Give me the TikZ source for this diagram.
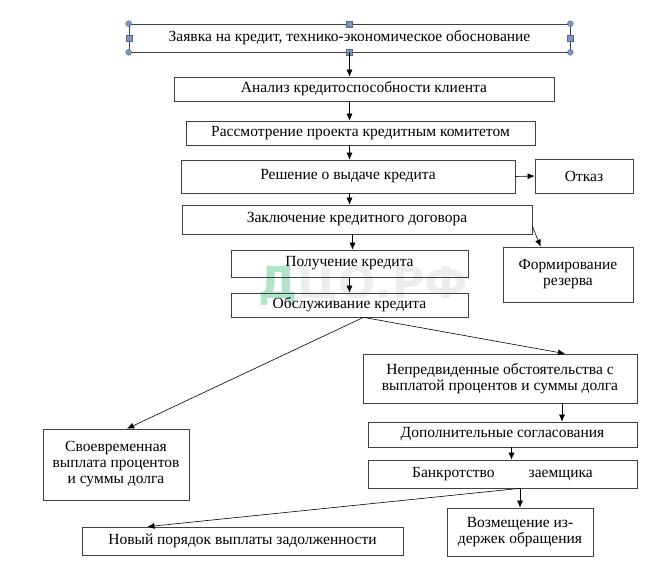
\documentclass[tikz,border=0pt]{standalone}
\usepackage{fontspec}
\setmainfont{Liberation Serif}
\newfontfamily\wmfont{DejaVu Sans}
\usetikzlibrary{arrows.meta}
\definecolor{handlefill}{RGB}{125,150,190}
\definecolor{handledraw}{RGB}{85,105,145}
\definecolor{wmgreen}{RGB}{175,228,200}
\definecolor{wmgray}{RGB}{236,238,238}
\tikzset{
  box/.style={draw=black!75, line width=0.7pt, inner sep=0pt, align=center,
    font=\fontsize{15.5}{16}\selectfont},
  arr/.style={-{Latex[length=7pt,width=6pt]}, line width=0.6pt},
  hcirc/.style={circle, fill=handlefill, draw=handledraw, line width=0.3pt,
    inner sep=0pt, minimum size=6pt},
  hsq/.style={rectangle, fill=handlefill, draw=handledraw, line width=0.3pt,
    inner sep=0pt, minimum size=6pt}
}
\begin{document}
\begin{tikzpicture}[x=1pt, y=-1pt]
  \useasboundingbox (0, 0) rectangle (666, 581);

  % watermark
  \node [font=\wmfont\bfseries\fontsize{44}{44}\selectfont, text=wmgray, anchor=west]
    (wm) at (255, 286) {\textcolor{wmgreen}{Д}ЦО.РФ};

  % boxes
  \node [box, minimum width=441pt, minimum height=28pt] (zayavka) at (349.5, 38)
    {Заявка на кредит, технико-экономическое обоснование};
  \node [box, minimum width=380pt, minimum height=24pt] (analiz) at (364, 89)
    {Анализ кредитоспособности клиента};
  \node [box, minimum width=349pt, minimum height=24pt] (rassm) at (360.5, 133)
    {Рассмотрение проекта кредитным комитетом};
  \node [box, minimum width=334pt, minimum height=33pt] (reshenie) at (348, 176.5)
    {Решение о выдаче кредита};
  \node [box, minimum width=98pt, minimum height=34pt] (otkaz) at (584, 176)
    {Отказ};
  \node [box, minimum width=350pt, minimum height=29pt] (zakl) at (357, 219.5)
    {Заключение кредитного договора};
  \node [box, minimum width=130pt, minimum height=55pt] (form) at (568, 274.5)
    {Формирование\\резерва};
  \node [box, minimum width=237pt, minimum height=27pt] (poluch) at (349.5, 263.5)
    {Получение кредита};
  \node [box, minimum width=237pt, minimum height=24pt] (obsl) at (349.5, 305)
    {Обслуживание кредита};
  \node [box, minimum width=146pt, minimum height=71pt] (svoevr) at (116, 464.5)
    {Своевременная\\выплата процентов\\и суммы долга};
  \node [box, minimum width=274pt, minimum height=49pt] (nepred) at (500, 378.5)
    {Непредвиденные обстоятельства с\\выплатой процентов и суммы долга};
  \node [box, minimum width=269pt, minimum height=25pt] (dop) at (502.5, 434.5)
    {Дополнительные согласования};
  \node [box, minimum width=269pt, minimum height=28pt] (bankr) at (502.5, 474)
    {Банкротство\hspace{2.2em}заемщика};
  \node [box, minimum width=321pt, minimum height=28pt] (novy) at (242.5, 541)
    {Новый порядок выплаты задолженности};
  \node [box, minimum width=146pt, minimum height=48pt] (vozm) at (520, 532)
    {Возмещение из-\\держек обращения};

  % selection handles
  \foreach \c in {north west, north east, south west, south east} {
    \node [hcirc] at (zayavka.\c) {};
  }
  \foreach \c in {north, south, west, east} {
    \node [hsq] at (zayavka.\c) {};
  }

  % connectors
  \draw [arr] (zayavka.south) -- (zayavka.south |- analiz.north);
  \draw [arr] (zayavka.south |- analiz.south) -- (zayavka.south |- rassm.north);
  \draw [arr] (zayavka.south |- rassm.south) -- (zayavka.south |- reshenie.north);
  \draw [arr] (reshenie.east) -- (otkaz.west);
  \draw [arr] (zayavka.south |- reshenie.south) -- (zayavka.south |- zakl.north);
  \draw [arr] ([yshift=8pt]zakl.south east) -- ([xshift=38pt]form.north west);
  \draw [arr] ([xshift=3pt]poluch.north |- zakl.south) -- ([xshift=3pt]poluch.north);
  \draw [arr] (poluch.south) -- (obsl.north);
  \draw [arr] ([xshift=14pt]obsl.south) -- ([xshift=11pt]svoevr.north);
  \draw [arr] ([xshift=14pt]obsl.south) -- ([xshift=65pt]nepred.north);
  \draw [arr] ([xshift=62pt]nepred.south) -- ([xshift=62pt]nepred.south |- dop.north);
  \draw [arr] ([xshift=9pt]dop.south) -- ([xshift=9pt]dop.south |- bankr.north);
  \draw [arr] (vozm.north |- bankr.south) -- (vozm.north);
  \draw [arr] (vozm.north |- bankr.south) -- ([xshift=-95pt]novy.north);
\end{tikzpicture}
\end{document}
